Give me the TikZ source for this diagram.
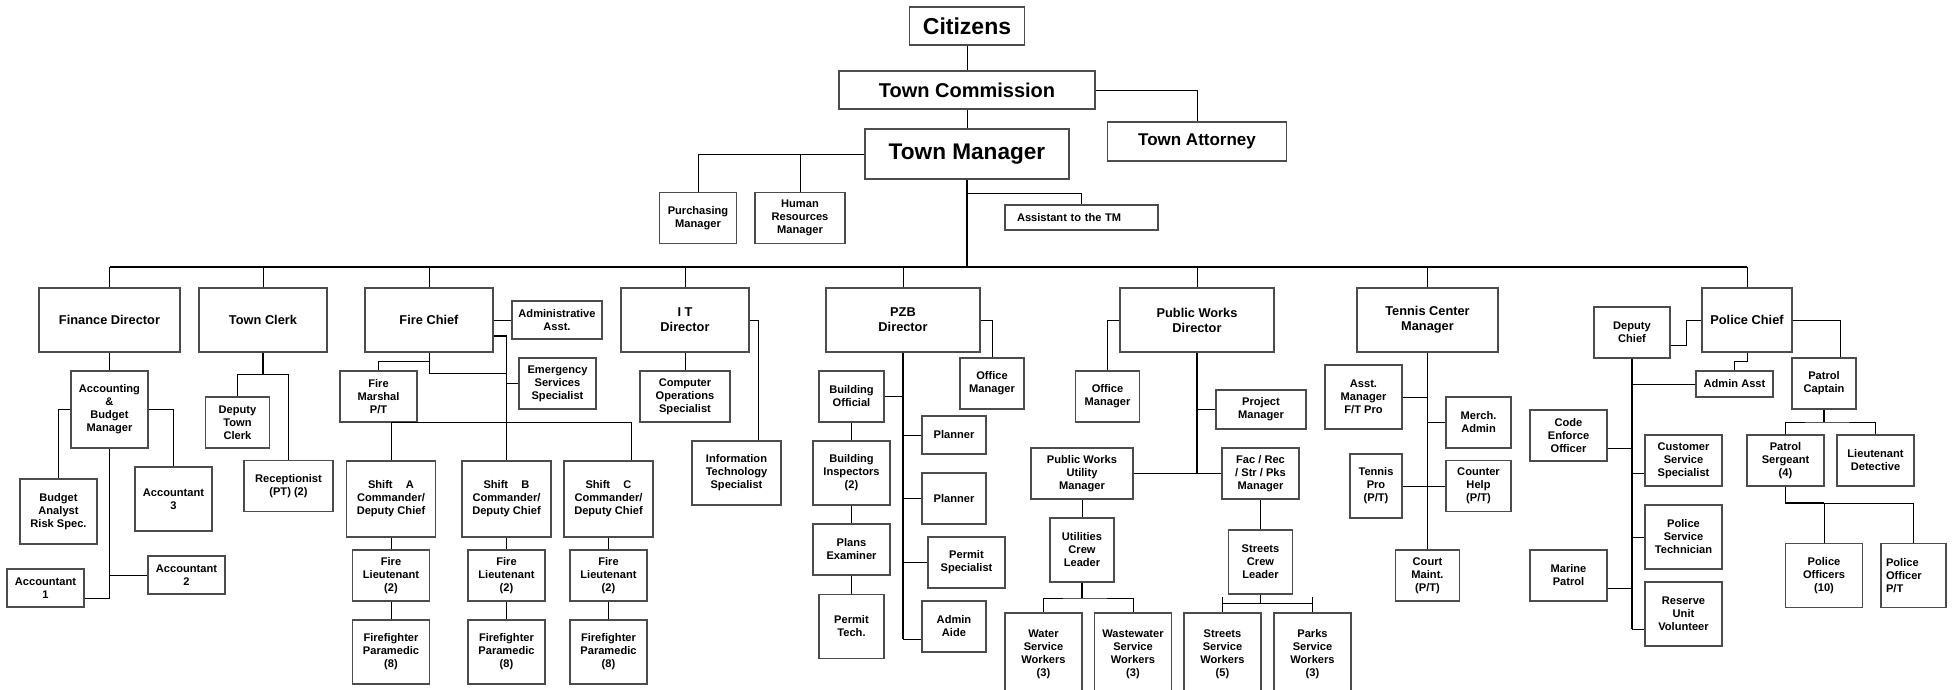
\documentclass[tikz,border=0pt]{standalone}
\usepackage{fontspec}
\setmainfont{Liberation Sans}
\begin{document}
\begin{tikzpicture}[
  x=1pt, y=-1pt,
  every node/.style={draw=black!70, line width=1.3pt, align=center, inner sep=0pt,
    font=\bfseries\fontsize{11.1}{13}\selectfont},
  sz/.style 2 args={minimum width=#1pt, minimum height=#2pt},
  head/.style={font=\bfseries\fontsize{12.8}{15}\selectfont},
  link/.style={draw=black, line width=0.9pt},
  trunk/.style={draw=black, line width=1.8pt}
]
  \useasboundingbox (0,0) rectangle (1954,690);
  \clip (0,0) rectangle (1954,690);

  \node[sz={115}{38}, font=\bfseries\fontsize{23}{26}\selectfont] (cit) at (967,26) {Citizens};
  \node[sz={256}{38}, font=\bfseries\fontsize{20}{24}\selectfont] (com) at (967,90) {Town Commission};
  \node[sz={179}{39}, font=\bfseries\fontsize{17}{20}\selectfont] (att) at (1197,141.5) {Town Attorney};
  \node[sz={204}{50}, font=\bfseries\fontsize{22.6}{26}\selectfont] (tm) at (967,154) {Town Manager};
  \node[sz={77}{51}] (pur) at (698,218) {Purchasing\\Manager};
  \node[sz={90}{51}] (hr) at (800,218) {Human\\Resources\\Manager};
  \node[sz={153}{25}, text width=129pt, align=left] (ast) at (1081.5,217.5) {Assistant to the TM};
  \coordinate (tmj) at (967,193);
  \coordinate (busL) at (109.5,267);
  \coordinate (busR) at (1747,267);

  \draw[link] (cit) -- (com) (com) -- (tm);
  \draw[link] (com.east) -| (att.north);
  \draw[link] (tm.west) -| (pur.north) (hr.north) -- (hr.north |- tm.west);
  \draw[link] (tmj) -| (ast.north);
  \draw[trunk, line width=2.2pt] (tm.south) -- (tm.south |- busL) (busL) -- (busR);

  \node[head, sz={141}{64}] (fin) at (109.5,320) {Finance Director};
  \node[head, sz={128}{64}] (clk) at (263,320) {Town Clerk};
  \node[head, sz={128}{64}] (fire) at (429,320) {Fire Chief};
  \node[head, sz={128}{64}] (it) at (685,320) {I T\\Director};
  \node[head, sz={154}{64}] (pzb) at (903,320) {PZB\\Director};
  \node[head, sz={154}{64}] (pw) at (1197,320) {Public Works\\Director};
  \node[head, sz={141}{64}] (tc) at (1427.5,320) {Tennis Center\\Manager};
  \node[head, sz={90}{64}] (pc) at (1747,320) {Police Chief};
  \foreach \d in {fin,clk,fire,it,pzb,pw,tc,pc}
    \draw[link] (\d.north) -- (\d.north |- busL);

  \node[sz={77}{77}] (abm) at (109.5,409.5) {Accounting\\\&\\Budget\\Manager};
  \node[sz={77}{65}] (ba) at (58.5,511.5) {Budget\\Analyst\\Risk Spec.};
  \node[sz={77}{64}] (acc3) at (173.5,499) {Accountant\\3};
  \node[sz={77}{38}] (acc2) at (186.5,575) {Accountant\\2};
  \node[sz={77}{38}] (acc1) at (45.5,588) {Accountant\\1};
  \coordinate (acc1j) at ([yshift=-10pt]acc1.east);
  \draw[link] (fin) -- (abm);
  \draw[link] (abm.west) -| (ba.north) (abm.east) -| (acc3.north);
  \draw[link] (abm.south) |- (acc1j) (acc2.west) -- (acc2.west -| abm.south);

  \node[sz={64}{51}] (dclk) at (237.5,422.5) {Deputy\\Town\\Clerk};
  \node[sz={89}{51}] (rec) at (288.5,486) {Receptionist\\(PT) (2)};
  \coordinate (clkj) at (263,374);
  \draw[trunk, line width=1.3pt] (clk.south) -- (clkj);
  \draw[link] (dclk.north) |- (rec.north |- clkj) -- (rec.north);

  \node[sz={90}{38}] (fadm) at (557,320) {Administrative\\Asst.};
  \node[sz={77}{51}] (ess) at (557.5,383.5) {Emergency\\Services\\Specialist};
  \node[sz={77}{51}] (fm) at (378.5,396.5) {Fire\\Marshal\\P/T};
  \foreach \s/\x in {A/391,B/506.5,C/608.5}{
    \node[sz={89}{76}] (sh\s) at (\x,499) {Shift\hspace{1.2em}\s\\Commander/\\Deputy Chief};
    \node[sz={77}{51}] (lt\s) at (\x,575.5) {Fire\\Lieutenant\\(2)};
    \node[sz={77}{64}] (ff\s) at (\x,652) {Firefighter\\Paramedic\\(8)};
    \draw[link] (sh\s) -- (lt\s) (lt\s) -- (ff\s);
  }
  \coordinate (firej) at (506.5,373);
  \coordinate (shbus) at (631,422);
  \draw[link] (fire.east) -- (fadm.west);
  \draw[trunk, line width=1.3pt] ([yshift=-16pt]fire.east) -| (shB.north);
  \draw[link] (ess.west) -- (ess.west -| shB.north);
  \draw[link] (fire.south) |- (firej);
  \draw[link] ([yshift=-9pt]fire.south) -| (fm.north);
  \draw[link] (shA.north) |- (shbus) -- (shbus |- shC.north);

  \node[sz={90}{51}] (cos) at (685,396.5) {Computer\\Operations\\Specialist};
  \node[sz={89}{64}] (its) at (736.5,473) {Information\\Technology\\Specialist};
  \draw[link] (it) -- (cos);
  \draw[link] (it.east) -| ([xshift=22pt]its.north);

  \node[sz={64}{51}] (pom) at (992,383.5) {Office\\Manager};
  \node[sz={65}{51}] (bo) at (851.5,396.5) {Building\\Official};
  \node[sz={77}{64}] (bi) at (851.5,473) {Building\\Inspectors\\(2)};
  \node[sz={77}{51}] (pe) at (851.5,549.5) {Plans\\Examiner};
  \node[sz={65}{64}] (ptc) at (851.5,626.5) {Permit\\Tech.};
  \node[sz={64}{38}] (pl1) at (954,435) {Planner};
  \node[sz={64}{51}] (pl2) at (954,498.5) {Planner};
  \node[sz={77}{51}] (psp) at (966.5,562.5) {Permit\\Specialist};
  \node[sz={64}{51}] (aide) at (954,626.5) {Admin\\Aide};
  \coordinate (aidej) at ([yshift=-12.5pt]aide.west);
  \draw[link] (pzb.east) -| (pom.north);
  \draw[trunk, line width=1.4pt] (pzb.south) -- (pzb.south |- aidej);
  \draw[link] (aidej) -- (aidej -| pzb.south) (bo.east) -- (bo.east -| pzb.south)
    (pl1.west) -- (pl1.west -| pzb.south) (pl2.west) -- (pl2.west -| pzb.south)
    (psp.west) -- (psp.west -| pzb.south);
  \draw[link] (bo) -- (bi) (bi) -- (pe) (pe) -- (ptc);

  \node[sz={64}{51}] (wom) at (1107.5,396.5) {Office\\Manager};
  \node[sz={90}{39}] (pm) at (1261,409.5) {Project\\Manager};
  \node[sz={102}{51}] (pwu) at (1082,473.5) {Public Works\\Utility\\Manager};
  \node[sz={77}{51}] (frm) at (1260.5,473.5) {Fac / Rec\\/ Str / Pks\\Manager};
  \node[sz={64}{64}] (ucl) at (1082,550) {Utilities\\Crew\\Leader};
  \node[sz={64}{64}] (scl) at (1260.5,562) {Streets\\Crew\\Leader};
  \foreach \n/\x/\t/\c in {wat/1043.5/Water/3, wst/1133/Wastewater/3, str/1222.5/Streets/5, prk/1312.5/Parks/3}
    \node[sz={77}{82}] (\n) at (\x,654) {\t\\Service\\Workers\\(\c)};
  \coordinate (watj) at (1082,598);
  \coordinate (strj) at (1260.5,603);
  \draw[link] (pw.west) -| (wom.north);
  \draw[trunk, line width=1.4pt] (pw.south) -- (pw.south |- pwu.east);
  \draw[link] (pm.west) -- (pm.west -| pw.south) (pwu.east) -- (frm.west);
  \draw[link] (pwu) -- (ucl) (frm) -- (scl);
  \draw[trunk, line width=1.4pt] (ucl.south) -- (watj);
  \draw[link] (wat.north) |- (watj) -| (wst.north);
  \draw[link] (scl.south) -- (strj) (str.north |- strj) -- (prk.north |- strj);
  \draw[link] (str.north) -- ++(0,-15) (prk.north) -- ++(0,-15);

  \node[sz={77}{64}] (am) at (1363.5,397) {Asst.\\Manager\\F/T Pro};
  \node[sz={65}{51}] (ma) at (1478.5,422.5) {Merch.\\Admin};
  \node[sz={52}{64}] (tp) at (1376,486) {Tennis\\Pro\\(P/T)};
  \node[sz={65}{51}] (chp) at (1478.5,486) {Counter\\Help\\(P/T)};
  \node[sz={64}{51}] (cm) at (1427.5,575.5) {Court\\Maint.\\(P/T)};
  \draw[link] (tc) -- (cm);
  \draw[link] (am.east) -- (am.east -| tc.south) (ma.west) -- (ma.west -| tc.south)
    (tp.east) -- (chp.west);

  \node[sz={76}{51}] (dc) at (1632,332.5) {Deputy\\Chief};
  \node[sz={77}{26}] (paa) at (1734.5,384) {Admin Asst};
  \node[sz={77}{51}] (ceo) at (1568.5,435.5) {Code\\Enforce\\Officer};
  \node[sz={77}{51}] (css) at (1683.5,460.5) {Customer\\Service\\Specialist};
  \node[sz={77}{64}] (pst) at (1683.5,537) {Police\\Service\\Technician};
  \node[sz={77}{51}] (mp) at (1568.5,575.5) {Marine\\Patrol};
  \node[sz={77}{64}] (ruv) at (1683.5,614) {Reserve\\Unit\\Volunteer};
  \node[sz={64}{51}] (pcap) at (1824,383.5) {Patrol\\Captain};
  \node[sz={77}{51}] (psg) at (1785.5,460.5) {Patrol\\Sergeant\\(4)};
  \node[sz={77}{51}] (ltd) at (1875.5,460.5) {Lieutenant\\Detective};
  \node[sz={77}{64}] (po) at (1824,575.5) {Police\\Officers\\(10)};
  \node[sz={65}{64}, text width=55pt, align=left] (popt) at (1913.5,575.5) {Police\\Officer\\P/T};
  \coordinate (dcj) at (1686,345);
  \coordinate (dcfoot) at (1632,629);
  \coordinate (ceoj) at ([yshift=-12.5pt]ceo.east);
  \coordinate (cssj) at ([yshift=-12.5pt]css.west);
  \coordinate (mpj) at ([yshift=-12.5pt]mp.east);
  \coordinate (capj) at (1824,422);
  \coordinate (sgtj) at (1785.5,503);
  \draw[link] (pc.west) -| (dcj) -- (dcj -| dc.east);
  \draw[link] (pc.south) -- ++(0,9) -| (paa.north);
  \draw[trunk] (dc.south) -- (dcfoot);
  \draw[link] (dcfoot) -- (dcfoot -| ruv.west) (paa.west) -- (paa.west -| dc.south)
    (ceoj) -- (ceoj -| dc.south) (cssj) -- (cssj -| dc.south)
    (pst.west) -- (pst.west -| dc.south) (mpj) -- (mpj -| dc.south);
  \draw[link] (pc.east) -| ([xshift=16pt]pcap.north);
  \draw[trunk, line width=1.4pt] (pcap.south) -- (capj);
  \draw[link] (psg.north) |- (capj) -| (ltd.north);
  \draw[trunk, line width=1.4pt] (psg.south) |- (po.north |- sgtj);
  \draw[link] (po.north |- sgtj) -| (popt.north) (po.north) -- (po.north |- sgtj);
\end{tikzpicture}
\end{document}
